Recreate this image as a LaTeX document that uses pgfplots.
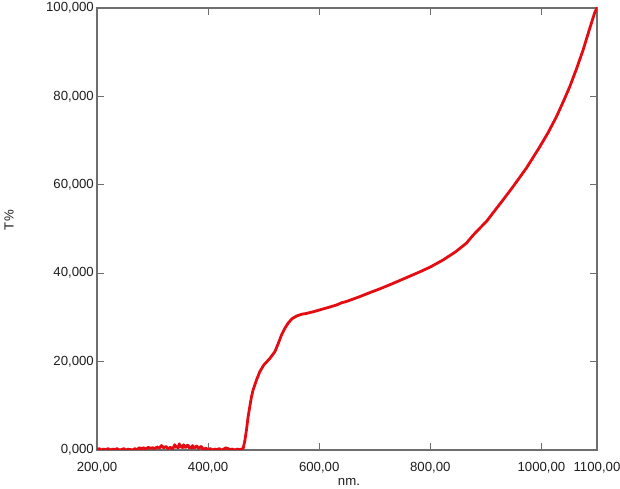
\documentclass[border=0pt]{standalone}
\usepackage{pgfplots}
\pgfplotsset{compat=1.18}
\usepackage{fontspec}
\setmainfont{Liberation Sans}
\definecolor{curve}{RGB}{228,12,18}
\definecolor{axgray}{RGB}{110,110,110}
\definecolor{txt}{RGB}{30,30,30}
\begin{document}
\begin{tikzpicture}
\useasboundingbox (0pt,0pt) rectangle (620pt,489pt);
\begin{axis}[
  at={(97pt,39pt)}, anchor=south west,
  scale only axis, width=500pt, height=442pt,
  xmin=200, xmax=1100, ymin=0, ymax=100,
  xtick={200,400,600,800,1000,1100},
  xticklabels={{200,00},{400,00},{600,00},{800,00},{1000,00},{1100,00}},
  ytick={0,20,40,60,80,100},
  yticklabels={{0,000},{20,000},{40,000},{60,000},{80,000},{100,000}},
  font=\fontsize{13.2}{15}\selectfont\color{txt},
  axis line style={axgray, line width=1.3pt},
  every tick/.style={axgray, line width=1.1pt},
  major tick length=7pt,
  tick align=inside,
  xticklabel style={inner sep=0pt, yshift=-12pt},
  yticklabel style={inner sep=0pt, xshift=-3pt},
  xlabel={nm.}, ylabel={T\%},
  every axis x label/.style={at={(axis description cs:0.504,-0.081)}, anchor=base, inner sep=0pt},
  every axis y label/.style={at={(axis description cs:-0.176,0.52)}, rotate=90, anchor=center},
  clip=true,
]
\addplot[curve, line width=2.8pt, line join=round, line cap=round] coordinates {
(200,0.1)(204,0.3)(208,0.0)(212,0.2)(216,0.1)(220,0.3)(224,0.0)(228,0.2)(232,0.1)(236,0.3)
(240,0.0)(244,0.1)(248,0.3)(252,0.0)(256,0.2)(260,0.1)(264,0.0)(268,0.3)(272,0.1)(276,0.5)
(280,0.3)(284,0.5)(288,0.2)(292,0.6)(296,0.4)(300,0.5)(304,0.3)(308,0.7)(312,0.4)(316,1.0)
(320,0.5)(324,0.8)(328,0.3)(332,0.6)(336,0.2)(340,1.2)(342,0.6)(344,0.8)(346,0.5)(348,1.4)(350,0.7)(352,0.9)
(354,0.5)(356,1.2)(358,0.6)(360,0.6)(362,1.0)(364,1.1)(366,0.5)(368,0.7)(370,0.4)(372,1.0)(374,0.5)(376,0.5)
(378,0.8)(380,0.9)(382,0.4)(384,0.4)(386,0.7)(388,0.8)(390,0.3)(392,0.2)(396,0.4)(400,0.1)(404,0.3)(408,0.0)
(412,0.2)(416,0.1)(420,0.3)(424,0.0)(428,0.2)(432,0.5)(436,0.3)(440,0.1)(444,0.2)(448,0.0)
(452,0.2)(456,0.1)(460,0.2)(463,0.3)
(466,2.0)(469,4.5)(472,7.5)(475,9.8)(478,12.0)(481,13.6)(487,15.8)(493,17.7)(500,19.2)
(511,20.7)(520,22.2)(526,24.0)(532,26.0)(538,27.5)(544,28.7)(551,29.7)(559,30.3)(568,30.7)
(577,30.9)(590,31.3)(601,31.7)(615,32.2)(631,32.8)(640,33.3)(649,33.6)(673,34.7)(691,35.6)
(710,36.5)(733,37.7)(757,39.0)(781,40.3)(800,41.4)(823,43.0)(845,44.8)(865,46.8)(877,48.6)
(890,50.3)(901,51.7)(915,54.0)(931,56.6)(949,59.6)(973,63.8)(997,68.6)(1012,71.8)(1027,75.4)
(1040,79.0)(1051,82.2)(1063,86.2)(1075,90.5)(1086,95.0)(1096,99.0)(1100,100)
};
\end{axis}
\end{tikzpicture}
\end{document}
